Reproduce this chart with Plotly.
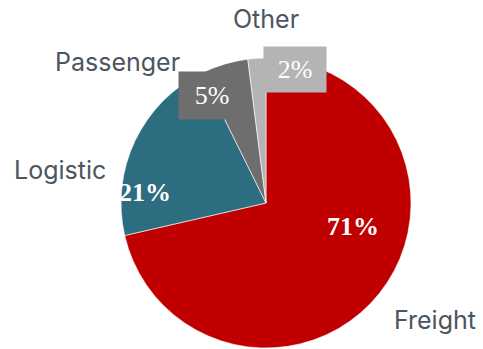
import plotly.graph_objects as go

categories = ["Freight", "Logistic", "Passenger", "Other"]
values = [71.4, 21.3, 5.3, 2.0]
pct_labels = ["71%", "21%", "5%", "2%"]
colors = ["#C00000", "#2C6E80", "#6E6E6E", "#B4B4B4"]

W, H = 483, 349
cx, cy, r = 266, 203, 145

fig = go.Figure(go.Pie(
    labels=categories,
    values=values,
    sort=False,
    direction="clockwise",
    rotation=0,
    marker=dict(colors=colors, line=dict(color="white", width=0.6)),
    textinfo="none",
    hoverinfo="label+percent",
    domain=dict(x=[(cx - r) / W, (cx + r) / W], y=[(H - cy - r) / H, (H - cy + r) / H]),
))

# label placement (pixels from top-left)
pct_pos = {"Freight": (353, 226), "Logistic": (145, 192), "Passenger": (212, 95), "Other": (295, 69)}
pct_box = {"Passenger": (66, 47), "Other": (62, 45)}
name_pos = {"Freight": (435, 320), "Logistic": (60, 170), "Passenger": (117, 62), "Other": (266, 19)}

ann = []
for cat, lab, col in zip(categories, pct_labels, colors):
    px, py = pct_pos[cat]
    a = dict(x=px / W, y=(H - py) / H, xref="paper", yref="paper", showarrow=False,
             xanchor="center", yanchor="middle",
             font=dict(family="Liberation Serif, Georgia, serif", size=26, color="white"))
    if cat in pct_box:
        bw, bh = pct_box[cat]
        a.update(text=lab, bgcolor=col, width=bw, height=bh, borderpad=0)
    else:
        a.update(text="<b>" + lab + "</b>")
    ann.append(a)
for cat in categories:
    px, py = name_pos[cat]
    ann.append(dict(x=px / W, y=(H - py) / H, xref="paper", yref="paper", showarrow=False,
                    xanchor="center", yanchor="middle", text=cat,
                    font=dict(family="Inter, Roboto, sans-serif", size=25, color="#4B5660")))

fig.update_layout(width=W, height=H, margin=dict(l=0, r=0, t=0, b=0),
                  showlegend=False, paper_bgcolor="white", plot_bgcolor="white",
                  annotations=ann)
fig.write_html("out.html")
